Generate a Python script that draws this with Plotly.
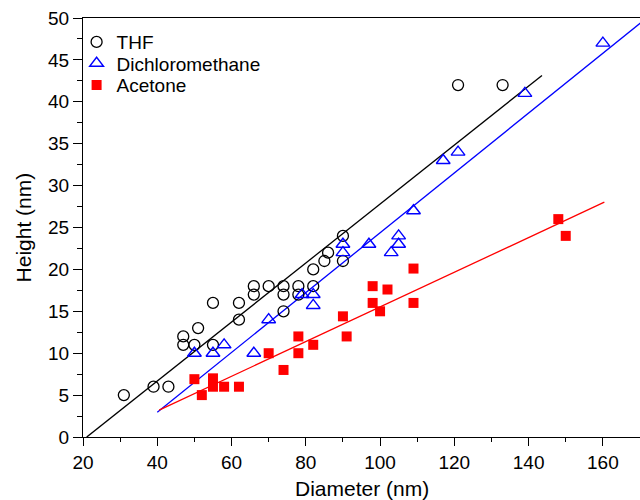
import plotly.graph_objects as go
import numpy as np

# THF (circles)
thf_x = [31, 39, 43, 47, 47, 50, 51, 55, 55, 62, 62, 66, 66, 70, 74, 74, 74, 78, 78, 82, 82, 85, 86, 90, 90, 121, 133]
thf_y = [5, 6, 6, 12, 11, 11, 13, 16, 11, 14, 16, 18, 17, 18, 18, 17, 15, 18, 17, 20, 18, 21, 22, 24, 21, 42, 42]

# Dichloromethane (triangles)
dcm_x = [50, 55, 58, 66, 70, 79, 82, 82, 90, 90, 97, 103, 105, 105, 109, 117, 121, 139, 160]
dcm_y = [10, 10, 11, 10, 14, 17, 17, 15.7, 23, 22, 23, 22, 24, 23, 27, 33, 34, 41, 47]

# Acetone (squares)
ace_x = [50, 52, 55, 55, 58, 62, 70, 74, 78, 78, 82, 90, 91, 98, 98, 100, 102, 109, 109, 148, 150]
ace_y = [6.9, 5, 7, 6, 6, 6, 10, 8, 12, 10, 11, 14.4, 12, 18, 16, 15, 17.6, 20.1, 16, 26, 24]

# Linear fits: slope, intercept, x-start, x-end
thf_fit = (0.352, -7.4, 21, 143.6)
dcm_fit = (0.357, -11.33, 40, 175)
ace_fit = (0.207, -5.18, 40.5, 160.4)

x_ticks = [20, 40, 60, 80, 100, 120, 140, 160]
y_ticks = [0, 5, 10, 15, 20, 25, 30, 35, 40, 45, 50]

FONT = "Liberation Sans, Arial, sans-serif"

fig = go.Figure()

def fit_line(fit, color):
    s, b, x0, x1 = fit
    xs = np.array([x0, x1])
    return go.Scatter(x=xs, y=s * xs + b, mode="lines",
                      line=dict(color=color, width=1.3),
                      showlegend=False, hoverinfo="skip")

fig.add_trace(fit_line(thf_fit, "black"))
fig.add_trace(fit_line(dcm_fit, "blue"))
fig.add_trace(fit_line(ace_fit, "red"))

fig.add_trace(go.Scatter(x=thf_x, y=thf_y, mode="markers", name="THF", legend="legend",
                         marker=dict(symbol="circle-open", size=11, color="black",
                                     line=dict(width=1.3, color="black"))))
fig.add_trace(go.Scatter(x=dcm_x, y=dcm_y, mode="markers", name="Dichloromethane",
                         legend="legend2",
                         marker=dict(symbol="triangle-up-open", size=12, color="blue",
                                     line=dict(width=1.4, color="blue"))))
fig.add_trace(go.Scatter(x=ace_x, y=ace_y, mode="markers", name="Acetone", legend="legend3",
                         marker=dict(symbol="square", size=10, color="red",
                                     line=dict(width=0))))

def leg(y):
    return dict(x=-0.0115, y=y, xanchor="left", yanchor="top",
                bgcolor="rgba(0,0,0,0)", font=dict(size=19, family=FONT),
                itemwidth=30)

fig.update_layout(
    width=640, height=500,
    margin=dict(l=83, r=0, t=18, b=63),
    paper_bgcolor="white", plot_bgcolor="white",
    font=dict(family=FONT, size=19, color="black"),
    showlegend=True,
    legend=leg(0.988),
    legend2=leg(0.937),
    legend3=leg(0.885),
    xaxis=dict(range=[20, 170], tickvals=x_ticks, ticks="outside", ticklen=8,
               tickwidth=1, tickcolor="black", showline=True, linecolor="black",
               linewidth=1, mirror=True, showgrid=False, zeroline=False,
               automargin=False,
               minor=dict(dtick=10, tick0=20, ticks="outside", ticklen=4, tickcolor="black"),
               tickfont=dict(size=19)),
    yaxis=dict(range=[0, 50], tickvals=y_ticks, ticks="outside", ticklen=9,
               tickwidth=1, tickcolor="black", showline=True, linecolor="black",
               linewidth=1, mirror=False, showgrid=False, zeroline=False,
               automargin=False,
               minor=dict(dtick=2.5, tick0=0, ticks="outside", ticklen=5, tickcolor="black"),
               tickfont=dict(size=19)),
    annotations=[
        dict(text="Diameter (nm)", x=0.5, y=-0.124, xref="paper", yref="paper",
             xanchor="center", yanchor="middle", showarrow=False,
             font=dict(size=21, family=FONT)),
        dict(text="Height (nm)", x=-0.106, y=0.5, xref="paper", yref="paper",
             xanchor="center", yanchor="middle", showarrow=False, textangle=-90,
             font=dict(size=21, family=FONT)),
    ],
)

fig.write_html(
    "out.html",
    config={"displayModeBar": False},
    post_script="document.body.style.margin='0';document.body.style.overflow='hidden';",
)
